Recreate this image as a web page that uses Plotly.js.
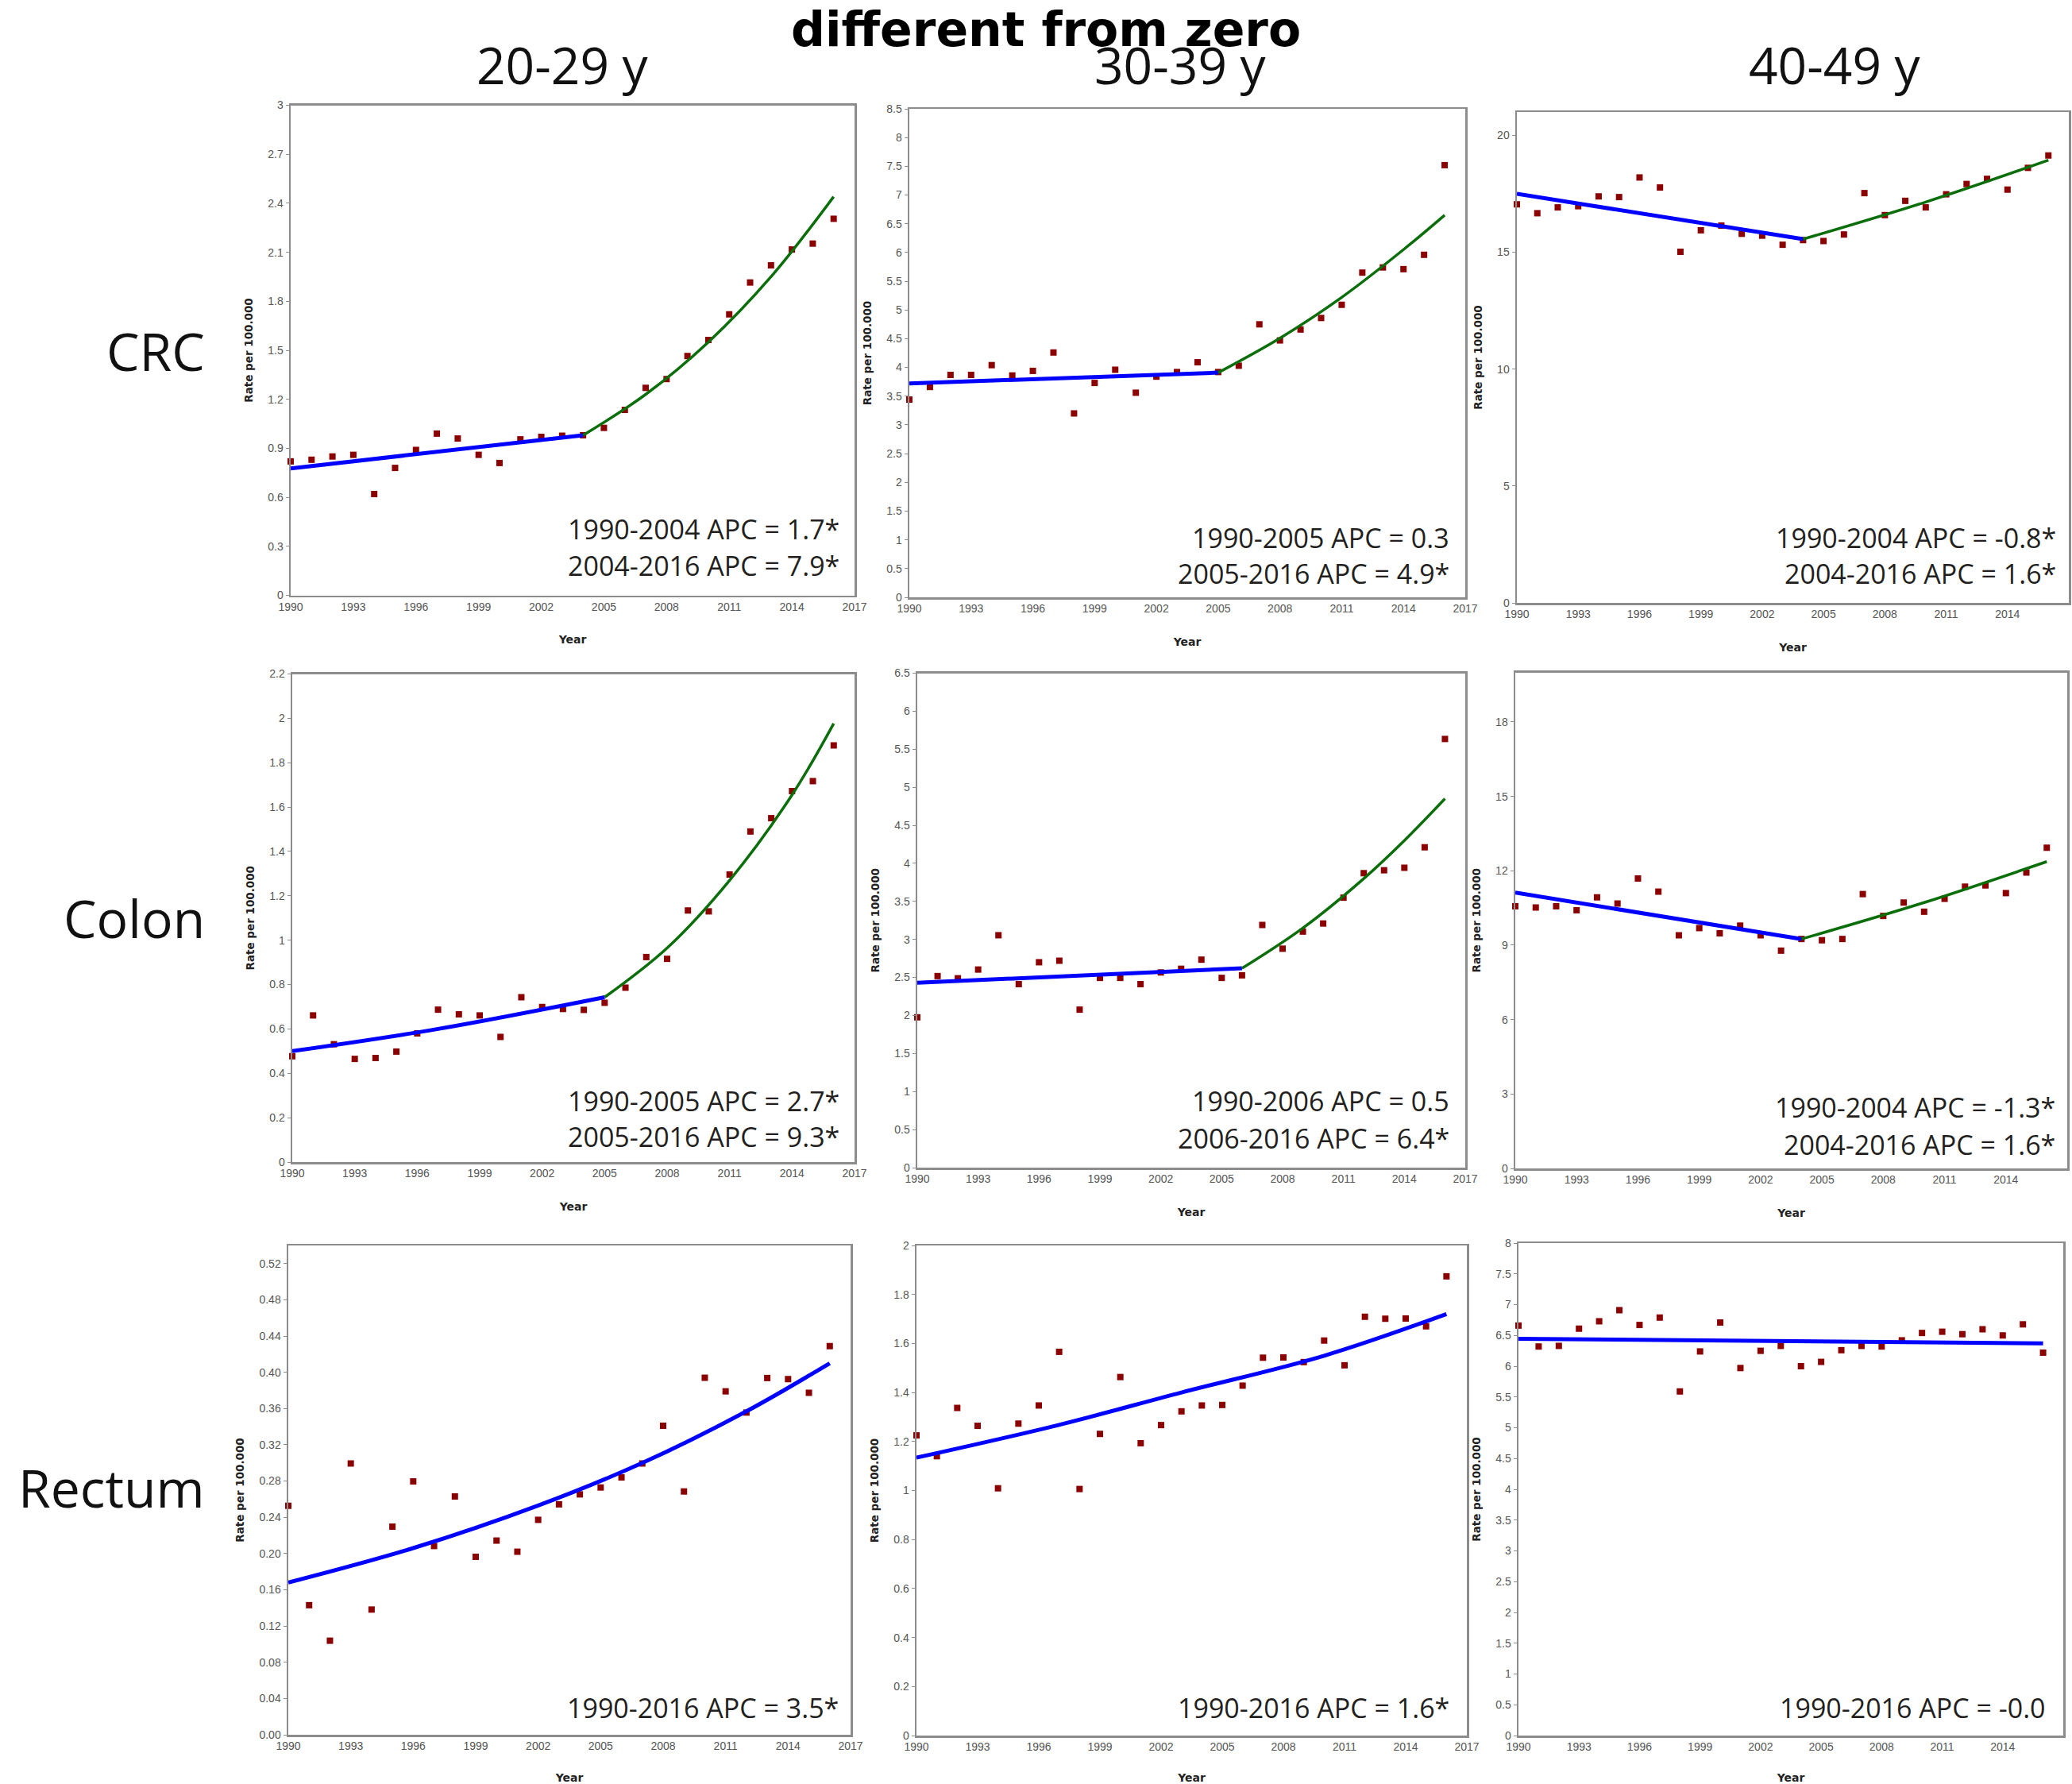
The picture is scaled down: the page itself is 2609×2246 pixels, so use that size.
<!DOCTYPE html>
<html>
<head>
<meta charset="utf-8">
<script src="https://cdn.plot.ly/plotly-3.0.1.min.js"></script>
<style>html,body{margin:0;padding:0;background:#fff;}</style>
</head>
<body>
<div id="chart" style="width:2609px;height:2246px;"></div>
<script>
// ---------------- DATA ----------------
const years = [1990,1991,1992,1993,1994,1995,1996,1997,1998,1999,2000,2001,2002,2003,2004,2005,2006,2007,2008,2009,2010,2011,2012,2013,2014,2015,2016];

const columnTitles = ["20-29 y", "30-39 y", "40-49 y"];
const rowLabels = ["CRC", "Colon", "Rectum"];
const mainTitle = "different from zero";

// Observed rates per 100.000
const crc_20_29 = [0.82,0.83,0.85,0.86,0.62,0.78,0.89,0.99,0.96,0.86,0.81,0.955,0.97,0.977,0.98,1.025,1.135,1.27,1.324,1.465,1.563,1.72,1.915,2.02,2.117,2.153,2.305];
const crc_30_39 = [3.44,3.66,3.87,3.87,4.04,3.86,3.94,4.26,3.20,3.73,3.96,3.56,3.84,3.92,4.09,3.92,4.03,4.75,4.47,4.66,4.86,5.09,5.65,5.74,5.71,5.96,7.52];
const crc_40_49 = [17.05,16.67,16.92,16.97,17.39,17.36,18.2,17.77,15.02,15.94,16.14,15.79,15.71,15.32,15.52,15.48,15.76,17.53,16.59,17.2,16.92,17.48,17.92,18.14,17.68,18.61,19.14];

const colon_20_29 = [0.477,0.661,0.531,0.465,0.469,0.498,0.58,0.687,0.666,0.661,0.564,0.743,0.699,0.69,0.686,0.718,0.786,0.924,0.916,1.134,1.13,1.296,1.49,1.55,1.672,1.717,1.878];
const colon_30_39 = [1.976,2.518,2.489,2.604,3.055,2.412,2.70,2.72,2.077,2.494,2.494,2.412,2.566,2.614,2.734,2.494,2.528,3.19,2.878,3.103,3.209,3.549,3.871,3.909,3.942,4.211,5.635];
const colon_40_49 = [10.57,10.52,10.57,10.41,10.93,10.68,11.69,11.16,9.40,9.69,9.48,9.79,9.40,8.78,9.25,9.20,9.25,11.06,10.18,10.72,10.35,10.87,11.36,11.41,11.10,11.93,12.93];

const rectum_20_29 = [0.2527,0.143,0.1038,0.2994,0.1382,0.2297,0.2796,0.2083,0.263,0.1964,0.2143,0.202,0.2372,0.2543,0.2653,0.2729,0.284,0.2994,0.341,0.2685,0.394,0.379,0.3556,0.3937,0.3925,0.3774,0.4289];
const rectum_30_39 = [1.225,1.14,1.337,1.264,1.009,1.273,1.347,1.566,1.006,1.231,1.463,1.193,1.267,1.323,1.347,1.349,1.428,1.542,1.543,1.524,1.612,1.511,1.709,1.701,1.702,1.670,1.874];
const rectum_40_49 = [6.66,6.32,6.33,6.61,6.73,6.91,6.67,6.79,5.59,6.24,6.71,5.97,6.25,6.33,6.00,6.07,6.26,6.33,6.32,6.42,6.54,6.56,6.52,6.60,6.50,6.68,6.22];

// Joinpoint fitted lines: segment 1 (blue), segment 2 (green)
const crc_20_29_fit1_x = [1990,2004], crc_20_29_fit1_y = [0.777,0.98];
const crc_20_29_fit2_x = [2004,2007,2010,2013,2016], crc_20_29_fit2_y = [0.98,1.23,1.55,1.95,2.44];
const crc_30_39_fit1_x = [1990,2005], crc_30_39_fit1_y = [3.72,3.91];
const crc_30_39_fit2_x = [2005,2008,2011,2014,2016], crc_30_39_fit2_y = [3.91,4.51,5.22,6.05,6.65];
const crc_40_49_fit1_x = [1990,2004], crc_40_49_fit1_y = [17.5,15.56];
const crc_40_49_fit2_x = [2004,2010,2016], crc_40_49_fit2_y = [15.56,17.15,18.94];

const colon_20_29_fit1_x = [1990,1997,2005], colon_20_29_fit1_y = [0.50,0.60,0.743];
const colon_20_29_fit2_x = [2005,2008,2011,2014,2016], colon_20_29_fit2_y = [0.743,0.965,1.27,1.655,1.977];
const colon_30_39_fit1_x = [1990,2006], colon_30_39_fit1_y = [2.43,2.62];
const colon_30_39_fit2_x = [2006,2009,2012,2014,2016], colon_30_39_fit2_y = [2.62,3.15,3.80,4.30,4.85];
const colon_40_49_fit1_x = [1990,2004], colon_40_49_fit1_y = [11.12,9.25];
const colon_40_49_fit2_x = [2004,2010,2016], colon_40_49_fit2_y = [9.25,10.72,12.37];

const rectum_20_29_fit1_x = [1990,1996,2002,2007,2012,2016], rectum_20_29_fit1_y = [0.168,0.206,0.253,0.300,0.357,0.410];
const rectum_30_39_fit1_x = [1990,1997,2003,2010,2016], rectum_30_39_fit1_y = [1.134,1.268,1.40,1.55,1.72];
const rectum_40_49_fit1_x = [1990,2016], rectum_40_49_fit1_y = [6.445,6.37];

// APC labels
const apc_crc = [["1990-2004 APC = 1.7*","2004-2016 APC = 7.9*"],["1990-2005 APC = 0.3","2005-2016 APC = 4.9*"],["1990-2004 APC = -0.8*","2004-2016 APC = 1.6*"]];
const apc_colon = [["1990-2005 APC = 2.7*","2005-2016 APC = 9.3*"],["1990-2006 APC = 0.5","2006-2016 APC = 6.4*"],["1990-2004 APC = -1.3*","2004-2016 APC = 1.6*"]];
const apc_rectum = [["1990-2016 APC = 3.5*"],["1990-2016 APC = 1.6*"],["1990-2016 APC = -0.0"]];

// ---------------- LAYOUT / STYLE ----------------
const W = 2609, H = 2246;
const panels = [
  {obs: crc_20_29, f1x: crc_20_29_fit1_x, f1y: crc_20_29_fit1_y, f2x: crc_20_29_fit2_x, f2y: crc_20_29_fit2_y, apc: apc_crc[0], top: 3, dtick: 0.3, fmt: '', px:[366,1076], py:[132.5,749.5], apcRight: 17, apcY:[666,712]},
  {obs: crc_30_39, f1x: crc_30_39_fit1_x, f1y: crc_30_39_fit1_y, f2x: crc_30_39_fit2_x, f2y: crc_30_39_fit2_y, apc: apc_crc[1], top: 8.5, dtick: 0.5, fmt: '', px:[1145,1845], py:[137,752], apcRight: 18, apcY:[677,722]},
  {obs: crc_40_49, f1x: crc_40_49_fit1_x, f1y: crc_40_49_fit1_y, f2x: crc_40_49_fit2_x, f2y: crc_40_49_fit2_y, apc: apc_crc[2], top: 21, dtick: 5, fmt: '', px:[1910,2605], py:[141,759], apcRight: 14, apcY:[677,722]},
  {obs: colon_20_29, f1x: colon_20_29_fit1_x, f1y: colon_20_29_fit1_y, f2x: colon_20_29_fit2_x, f2y: colon_20_29_fit2_y, apc: apc_colon[0], top: 2.2, dtick: 0.2, fmt: '', px:[368,1076], py:[848.5,1463], apcRight: 17, apcY:[1386,1431]},
  {obs: colon_30_39, f1x: colon_30_39_fit1_x, f1y: colon_30_39_fit1_y, f2x: colon_30_39_fit2_x, f2y: colon_30_39_fit2_y, apc: apc_colon[1], top: 6.5, dtick: 0.5, fmt: '', px:[1155,1845], py:[847.5,1470], apcRight: 18, apcY:[1386,1433]},
  {obs: colon_40_49, f1x: colon_40_49_fit1_x, f1y: colon_40_49_fit1_y, f2x: colon_40_49_fit2_x, f2y: colon_40_49_fit2_y, apc: apc_colon[2], top: 20, dtick: 3, fmt: '', px:[1908,2603], py:[846.5,1471], apcRight: 13, apcY:[1394,1441]},
  {obs: rectum_20_29, f1x: rectum_20_29_fit1_x, f1y: rectum_20_29_fit1_y, f2x: null, f2y: null, apc: apc_rectum[0], top: 0.54, dtick: 0.04, fmt: '.2f', px:[363,1071], py:[1568,2184], apcRight: 13, apcY:[2150]},
  {obs: rectum_30_39, f1x: rectum_30_39_fit1_x, f1y: rectum_30_39_fit1_y, f2x: null, f2y: null, apc: apc_rectum[1], top: 2, dtick: 0.2, fmt: '', px:[1154,1847], py:[1568,2185], apcRight: 20, apcY:[2150]},
  {obs: rectum_40_49, f1x: rectum_40_49_fit1_x, f1y: rectum_40_49_fit1_y, f2x: null, f2y: null, apc: apc_rectum[2], top: 8, dtick: 0.5, fmt: '', px:[1912,2598], py:[1565,2185], apcRight: 20, apcY:[2150]}
];

const frameColor = '#8c8c8c';
const tickFont = {family: 'Liberation Sans, Arial, sans-serif', size: 14, color: '#555'};
const axTitleFont = {family: 'DejaVu Sans, sans-serif', size: 13.5, color: '#222'};
const apcFont = {family: 'Open Sans, sans-serif', size: 34, color: '#231f20'};

const traces = [];
const layout = {
  width: W, height: H,
  margin: {l: 0, r: 0, t: 0, b: 0},
  paper_bgcolor: '#ffffff', plot_bgcolor: '#ffffff',
  showlegend: false,
  annotations: []
};

panels.forEach((p, i) => {
  const sfx = i === 0 ? '' : String(i + 1);
  const xa = 'x' + sfx, ya = 'y' + sfx;
  layout['xaxis' + sfx] = {
    domain: [p.px[0] / W, p.px[1] / W],
    anchor: ya,
    range: [1990, 2017], tick0: 1990, dtick: 3,
    showline: true, mirror: true, linecolor: frameColor, linewidth: 2.5,
    showgrid: false, zeroline: false, ticks: '',
    tickfont: tickFont,
    title: {text: '<b>Year</b>', font: {family: axTitleFont.family, size: 14, color: '#222'}, standoff: 30}
  };
  layout['yaxis' + sfx] = {
    domain: [1 - p.py[1] / H, 1 - p.py[0] / H],
    anchor: xa,
    range: [0, p.top], tick0: 0, dtick: p.dtick, tickformat: p.fmt,
    showline: true, mirror: true, linecolor: frameColor, linewidth: 2.5,
    showgrid: false, zeroline: false,
    ticks: 'outside', ticklen: 4, tickcolor: frameColor, tickwidth: 1,
    tickfont: tickFont,
    title: {text: '<b>Rate per 100.000</b>', font: axTitleFont, standoff: 16}
  };
  traces.push({
    type: 'scatter', mode: 'markers', x: years, y: p.obs, xaxis: xa, yaxis: ya,
    marker: {symbol: 'square', size: 8, color: '#8b0000'}, cliponaxis: false, hoverinfo: 'x+y'
  });
  traces.push({
    type: 'scatter', mode: 'lines', x: p.f1x, y: p.f1y, xaxis: xa, yaxis: ya,
    line: {color: '#0000ff', width: 5, shape: 'spline', smoothing: 1}, cliponaxis: false
  });
  if (p.f2x) {
    traces.push({
      type: 'scatter', mode: 'lines', x: p.f2x, y: p.f2y, xaxis: xa, yaxis: ya,
      line: {color: '#0a6e0a', width: 3.5, shape: 'spline', smoothing: 1}, cliponaxis: false
    });
  }
  p.apc.forEach((t, k) => {
    layout.annotations.push({
      xref: 'paper', yref: 'paper',
      x: (p.px[1] - p.apcRight) / W, y: 1 - p.apcY[k] / H,
      xanchor: 'right', yanchor: 'middle', showarrow: false,
      text: t, font: apcFont
    });
  });
});

// column titles
const colCenters = [708, 1486, 2310];
columnTitles.forEach((t, j) => {
  layout.annotations.push({
    xref: 'paper', yref: 'paper', x: colCenters[j] / W, y: 1 - 82 / H,
    xanchor: 'center', yanchor: 'middle', showarrow: false,
    text: t, font: {family: 'Open Sans, sans-serif', size: 64, color: '#111'}
  });
});
// row labels
const rowCenters = [441, 1155, 1872];
rowLabels.forEach((t, j) => {
  layout.annotations.push({
    xref: 'paper', yref: 'paper', x: 260 / W, y: 1 - rowCenters[j] / H,
    xanchor: 'right', yanchor: 'middle', showarrow: false,
    text: t, font: {family: 'Open Sans, sans-serif', size: 66, color: '#111'}
  });
});
// top title fragment
layout.annotations.push({
  xref: 'paper', yref: 'paper', x: 1317 / W, y: 1,
  xanchor: 'center', yanchor: 'top', showarrow: false,
  text: '<b>' + mainTitle + '</b>', font: {family: 'DejaVu Sans, sans-serif', size: 60, color: '#000'}
});

Plotly.newPlot('chart', traces, layout, {staticPlot: true, displayModeBar: false});
</script>
</body>
</html>
